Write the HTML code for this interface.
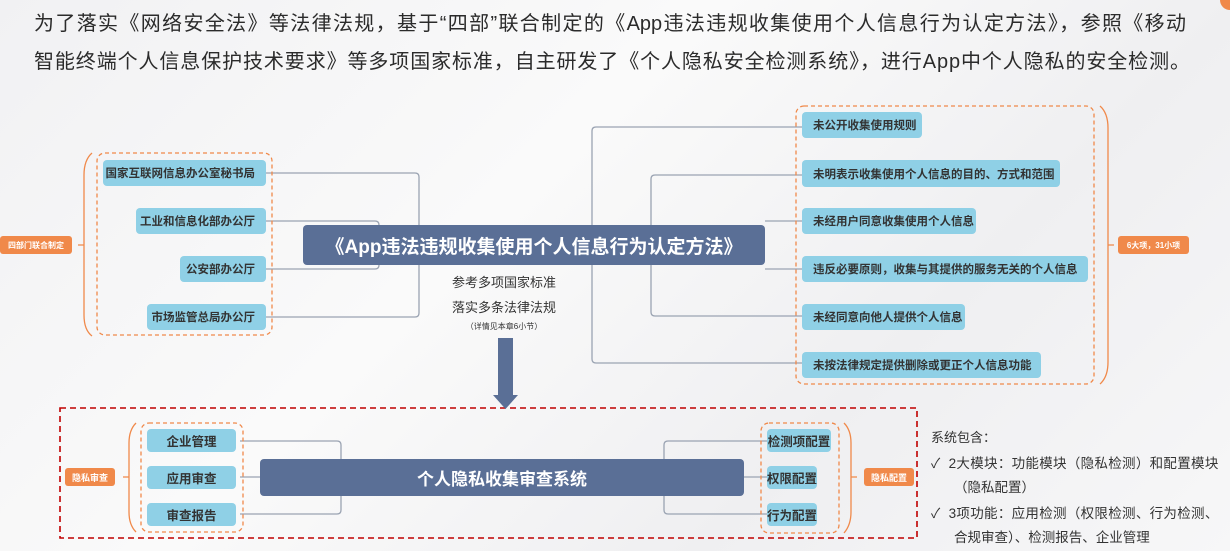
<!DOCTYPE html>
<html><head><meta charset="utf-8"><style>
*{margin:0;padding:0;box-sizing:border-box}
body{width:1230px;height:551px;overflow:hidden;background:linear-gradient(135deg,#f1f1f3 0%,#fafafa 40%,#efeff1 70%,#f7f7f8 100%);font-family:"Liberation Sans","Noto Sans CJK SC",sans-serif;position:relative;color:#333}
.a{position:absolute}
.h{position:absolute;left:34px;font-size:20px;color:#2b2b2b;white-space:nowrap;font-family:"Liberation Sans","WenQuanYi Zen Hei","Noto Sans CJK SC",sans-serif}
.b{position:absolute;background:#8fd0e6;border-radius:4px;font-size:11.5px;font-weight:bold;color:#333;display:flex;align-items:center;white-space:nowrap}
.l{justify-content:flex-end;padding-right:11px}
.r{padding-left:11px}
.c{justify-content:center;font-size:12.5px}
.o{position:absolute;background:#f0894a;color:#fff;border-radius:3px;font-size:8px;font-weight:bold;display:flex;align-items:center;justify-content:center;white-space:nowrap}
.m{position:absolute;background:#5a6f96;color:#fff;font-weight:bold;display:flex;align-items:center;justify-content:center;border-radius:4px;white-space:nowrap}
.t{position:absolute;font-size:14px;color:#333;white-space:nowrap}
</style></head><body>
<div class="h" style="top:7px;width:1152px;text-align:justify;text-align-last:justify;white-space:normal;height:28px;overflow:hidden">为了落实《网络安全法》等法律法规，基于“四部”联合制定的《App违法违规收集使用个人信息行为认定方法》，参照《移动</div>
<div class="h" style="top:45px;letter-spacing:0.9px">智能终端个人信息保护技术要求》等多项国家标准，自主研发了《个人隐私安全检测系统》，进行App中个人隐私的安全检测。</div>
<div class="a" style="left:1220px;top:-10px;width:20px;height:20px;border-radius:50%;background:#f0894a"></div>

<svg class="a" style="left:0;top:0" width="1230" height="551">
<g fill="none" stroke="#9aa3b2" stroke-width="1.3">
<path d="M266 173 H415 q4 0 4 4 V313 q0 4 -4 4 H266"/>
<path d="M266 221 H375 q4 0 4 4 V265 q0 4 -4 4 H266"/>
<path d="M802 127 H596 q-4 0 -4 4 V359 q0 4 4 4 H802"/>
<path d="M802 175 H655 q-4 0 -4 4 V312 q0 4 4 4 H802"/>
<path d="M802 221 H765 M802 269 H765"/>
<path d="M240 441 H337 q4 0 4 4 V510 q0 4 -4 4 H240 M240 477 H260"/>
<path d="M767 441 H668 q-4 0 -4 4 V510 q0 4 4 4 H767 M744 477 H767"/>
</g>
<g fill="none" stroke="#f0894a" stroke-width="1.3" stroke-dasharray="4,3">
<rect x="97" y="153" width="175" height="182" rx="8"/>
<rect x="796" y="106" width="298" height="278" rx="8"/>
<rect x="141" y="423" width="102" height="109" rx="8"/>
<rect x="761" y="423" width="78" height="110" rx="8"/>
</g>
<g fill="none" stroke="#f0894a" stroke-width="1.3">
<path d="M92 153 Q84 160 84 175 V315 Q84 330 92 336 M84 245 H78"/>
<path d="M1100 106 Q1108 113 1108 128 V362 Q1108 377 1100 384 M1108 245 H1114"/>
<path d="M136 423 Q129 430 129 443 V512 Q129 525 136 532 M129 477 H123"/>
<path d="M844 423 Q851 430 851 443 V512 Q851 525 844 533 M851 477 H857"/>
</g>
<rect x="60" y="408" width="857" height="130" fill="none" stroke="#c00000" stroke-width="1.6" stroke-dasharray="6,4"/>
<rect x="498" y="338" width="15" height="58" fill="#5a6f96"/>
<path d="M493 395 H518 L505.5 409 Z" fill="#5a6f96"/>
</svg>

<div class="b l" style="left:103px;top:160px;width:163px;height:26px">国家互联网信息办公室秘书局</div>
<div class="b l" style="left:136px;top:208px;width:130px;height:26px">工业和信息化部办公厅</div>
<div class="b l" style="left:180px;top:256px;width:86px;height:26px">公安部办公厅</div>
<div class="b l" style="left:147px;top:304px;width:119px;height:26px">市场监管总局办公厅</div>
<div class="o" style="left:0;top:236px;width:72px;height:18px">四部门联合制定</div>

<div class="m" style="left:303px;top:225px;width:462px;height:40px;font-size:19px">《App违法违规收集使用个人信息行为认定方法》</div>
<div class="a" style="left:440px;top:272px;width:128px;text-align:center;font-size:13px">参考多项国家标准</div>
<div class="a" style="left:440px;top:297px;width:128px;text-align:center;font-size:13px">落实多条法律法规</div>
<div class="a" style="left:440px;top:321px;width:128px;text-align:center;font-size:8px">（详情见本章6小节）</div>

<div class="b r" style="left:802px;top:112px;width:120px;height:26px">未公开收集使用规则</div>
<div class="b r" style="left:802px;top:160px;width:258px;height:27px">未明表示收集使用个人信息的目的、方式和范围</div>
<div class="b r" style="left:802px;top:208px;width:174px;height:26px">未经用户同意收集使用个人信息</div>
<div class="b r" style="left:802px;top:256px;width:286px;height:26px">违反必要原则，收集与其提供的服务无关的个人信息</div>
<div class="b r" style="left:802px;top:304px;width:163px;height:26px">未经同意向他人提供个人信息</div>
<div class="b r" style="left:802px;top:352px;width:239px;height:26px">未按法律规定提供删除或更正个人信息功能</div>
<div class="o" style="left:1118px;top:236px;width:71px;height:18px">6大项，31小项</div>

<div class="b c" style="left:147px;top:429px;width:89px;height:23px">企业管理</div>
<div class="b c" style="left:147px;top:466px;width:89px;height:23px">应用审查</div>
<div class="b c" style="left:147px;top:503px;width:89px;height:23px">审查报告</div>
<div class="o" style="left:65px;top:468px;width:50px;height:18px;font-size:9px">隐私审查</div>
<div class="m" style="left:260px;top:459px;width:484px;height:37px;font-size:17px">个人隐私收集审查系统</div>
<div class="b c" style="left:767px;top:429px;width:64px;height:23px">检测项配置</div>
<div class="b c" style="left:767px;top:466px;width:50px;height:23px">权限配置</div>
<div class="b c" style="left:767px;top:503px;width:50px;height:23px">行为配置</div>
<div class="o" style="left:864px;top:468px;width:50px;height:18px;font-size:9px">隐私配置</div>

<div class="t" style="left:931px;top:427px;font-size:13px">系统包含：</div>
<div class="t" style="left:931px;top:452px;font-size:13.5px;letter-spacing:0.3px">✓&nbsp;&nbsp;2大模块：功能模块（隐私检测）和配置模块</div>
<div class="t" style="left:954px;top:476px;font-size:13.5px">（隐私配置）</div>
<div class="t" style="left:931px;top:502px;font-size:13.5px;letter-spacing:0.3px">✓&nbsp;&nbsp;3项功能：应用检测（权限检测、行为检测、</div>
<div class="t" style="left:954px;top:526px;font-size:13.5px">合规审查）、检测报告、企业管理</div>
</body></html>
